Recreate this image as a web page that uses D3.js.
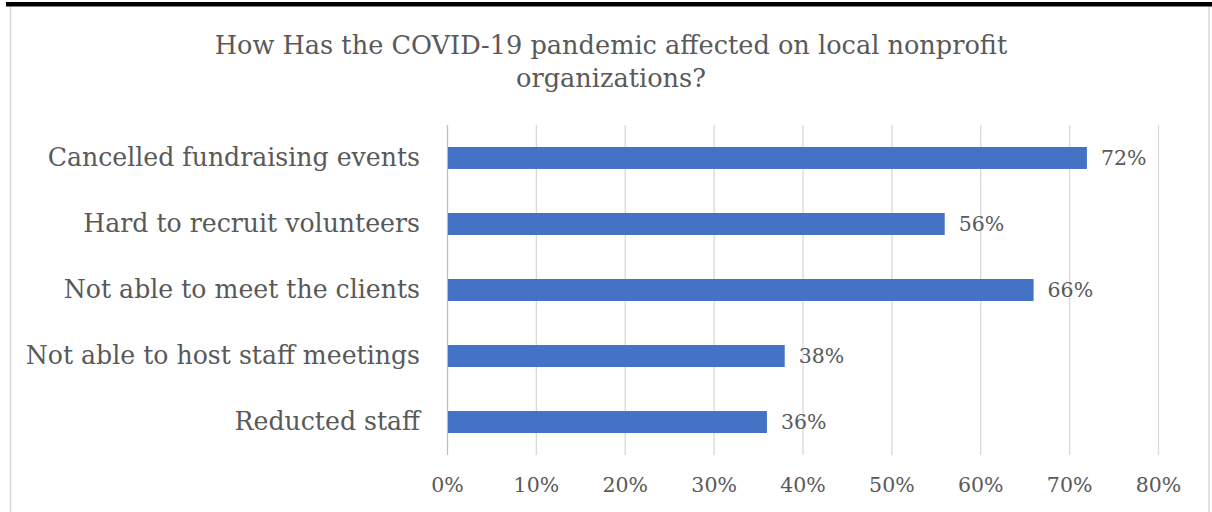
<!DOCTYPE html>
<html><head><meta charset="utf-8">
<script src="https://cdn.jsdelivr.net/npm/d3@7"></script>
<style>body{margin:0;background:#fff}svg{display:block}</style>
</head><body>
<script>
const categories = ["Cancelled fundraising events","Hard to recruit volunteers","Not able to meet the clients","Not able to host staff meetings","Reducted staff"];
const values = [0.72,0.56,0.66,0.38,0.36];
const tickValues = [0,0.1,0.2,0.3,0.4,0.5,0.6,0.7,0.8];
const titleLines = ["How Has the COVID-19 pandemic affected on local nonprofit","organizations?"];

const W=1212,H=512;
const font="'DejaVu Serif', 'Liberation Serif', serif";
const textColor="#595959";
const svg=d3.select("body").append("svg").attr("width",W).attr("height",H);

// frame
svg.append("rect").attr("x",10.5).attr("y",4).attr("width",1198.5).attr("height",520).attr("fill","none").attr("stroke","#d9d9d9").attr("stroke-width",1.5);
svg.append("rect").attr("x",6).attr("y",2).attr("width",1206).attr("height",4.5).attr("fill","#000");

const x=d3.scaleLinear().domain([0,0.8]).range([447,1158]);
const y=d3.scaleBand().domain(categories).range([125,455]).paddingInner(0.667).paddingOuter(0.333);

// gridlines
svg.append("g").selectAll("line").data(tickValues).join("line")
  .attr("x1",d=>x(d)+0.5).attr("x2",d=>x(d)+0.5).attr("y1",125).attr("y2",455)
  .attr("stroke",d=>d===0?"#bfbfbf":"#d9d9d9").attr("stroke-width",1.3);

// x axis labels
const xa=svg.append("g").attr("transform","translate(0,455)")
  .call(d3.axisBottom(x).tickValues(tickValues).tickFormat(d3.format(".0%")).tickSize(0).tickPadding(22));
xa.select(".domain").remove();
xa.selectAll("text").attr("font-family",font).attr("font-size",20.5).attr("fill",textColor);

// y axis labels
const ya=svg.append("g").attr("transform","translate(447,0)")
  .call(d3.axisLeft(y).tickSize(0).tickPadding(27));
ya.select(".domain").remove();
ya.selectAll("text").attr("font-family",font).attr("font-size",25.2).attr("fill",textColor);

// bars
svg.append("g").selectAll("rect").data(values).join("rect")
  .attr("x",x(0)+1).attr("y",(d,i)=>y(categories[i]))
  .attr("width",d=>x(d)-x(0)-1).attr("height",y.bandwidth())
  .attr("fill","#4472c4");

// labels
svg.append("g").selectAll("text").data(values).join("text")
  .attr("x",d=>x(d)+14).attr("y",(d,i)=>y(categories[i])+y.bandwidth()/2)
  .attr("dy","0.35em").attr("font-family",font).attr("font-size",20.5).attr("fill",textColor)
  .text(d=>d3.format(".0%")(d));

// title
svg.append("g").selectAll("text").data(titleLines).join("text")
  .attr("x",611).attr("y",(d,i)=>54+i*33).attr("text-anchor","middle")
  .attr("font-family",font).attr("font-size",25.6).attr("fill",textColor).text(d=>d);
</script>
</body></html>
